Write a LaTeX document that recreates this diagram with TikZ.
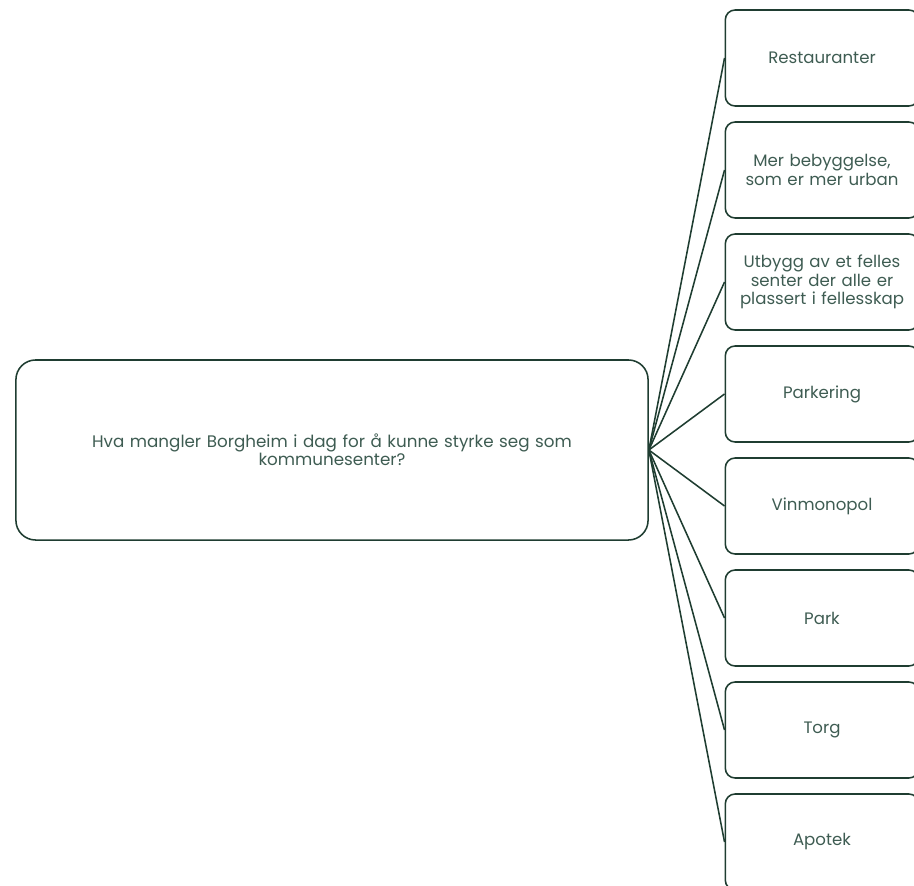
\documentclass[tikz,border=0pt]{standalone}
\usepackage{fontspec}
\setmainfont{Poppins}
\usepackage{xcolor}
\definecolor{skog}{HTML}{1F3D31}
\definecolor{tekstgronn}{HTML}{3E5C52}
\tikzset{
  sporsmal/.style={draw=skog, line width=1.1pt, rounded corners=14pt, rectangle,
    minimum width=15.8cm, minimum height=4.5cm, text width=14.5cm, align=center,
    text=tekstgronn, font=\fontsize{11.9}{11.4}\selectfont},
  svar/.style={draw=skog, line width=1.1pt, rounded corners=7pt, rectangle,
    minimum width=4.8cm, minimum height=2.4cm, text width=4.6cm, align=center,
    text=tekstgronn, font=\fontsize{11.8}{13}\selectfont},
  gren/.style={draw=skog, line width=1.1pt}
}
\begin{document}
\begin{tikzpicture}[x=0.025cm,y=-0.025cm]
    % ramme
    \useasboundingbox (0,0) rectangle (914,886);
    \clip (0,0) rectangle (914,886);

    % hovedspørsmål
    \node[sporsmal] (S) at (332,450) {Hva mangler Borgheim i dag for å kunne styrke seg som\\kommunesenter?};

    % svarbokser
    \node[svar] (R) at (822,58)  {Restauranter};
    \node[svar] (M) at (822,170) {Mer bebyggelse,\\som er mer urban};
    \node[svar] (U) at (822,282) {Utbygg av et felles\\senter der alle er\\plassert i fellesskap};
    \node[svar] (P) at (822,394) {Parkering};
    \node[svar] (V) at (822,506) {Vinmonopol};
    \node[svar] (K) at (822,618) {Park};
    \node[svar] (T) at (822,730) {Torg};
    \node[svar] (A) at (822,842) {Apotek};

    % grener
    \draw[gren] (S.east) -- (R.west);
    \draw[gren] (S.east) -- (M.west);
    \draw[gren] (S.east) -- (U.west);
    \draw[gren] (S.east) -- (P.west);
    \draw[gren] (S.east) -- (V.west);
    \draw[gren] (S.east) -- (K.west);
    \draw[gren] (S.east) -- (T.west);
    \draw[gren] (S.east) -- (A.west);
\end{tikzpicture}
\end{document}
